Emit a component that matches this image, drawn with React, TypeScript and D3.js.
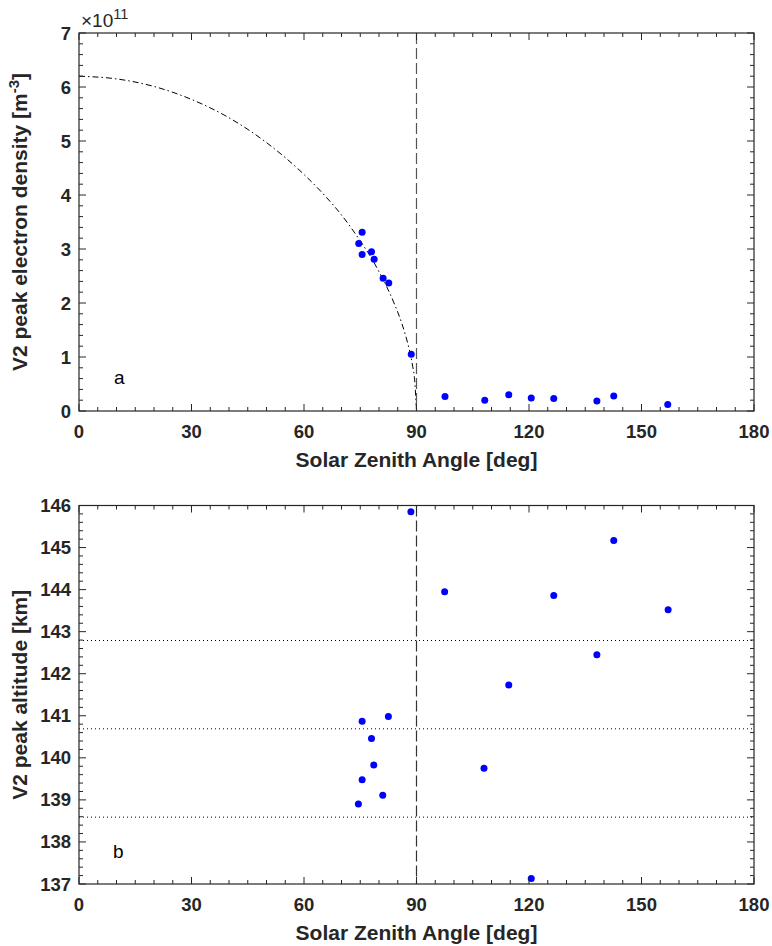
import React from "react";
import * as d3 from "d3";

// ---- data ----
const sza = [74.6, 75.5, 75.5, 78.0, 78.7, 81.1, 82.6, 88.6, 97.6, 108.2, 114.6, 120.6, 126.6, 138.1, 142.6, 157.0];
const densityE11 = [3.10, 3.31, 2.90, 2.95, 2.81, 2.46, 2.37, 1.05, 0.27, 0.20, 0.30, 0.24, 0.23, 0.185, 0.28, 0.12];
const altitudeSza = [74.5, 75.5, 75.5, 78.0, 78.6, 81.0, 82.5, 88.5, 97.5, 108.0, 114.6, 120.6, 126.6, 138.1, 142.6, 157.1];
const altitudeKm = [138.90, 140.87, 139.48, 140.46, 139.83, 139.11, 140.98, 145.85, 143.95, 139.75, 141.73, 137.13, 143.86, 142.45, 145.17, 143.52];
// model curve (dash-dot)
const curveSza = [0, 10, 20, 30, 40, 50, 60, 65, 70, 75, 78, 80, 82, 84, 86, 87, 88, 89, 89.5, 90];
const curveDensity = [6.20, 6.15, 6.01, 5.77, 5.43, 4.97, 4.38, 4.03, 3.63, 3.15, 2.83, 2.58, 2.31, 2.00, 1.64, 1.42, 1.16, 0.82, 0.58, 0.0];
// reference altitude lines (mean and +/- std)
const refAltitudes = [142.79, 140.69, 138.59];
const xTicks = [0, 30, 60, 90, 120, 150, 180];
const yTicksTop = [0, 1, 2, 3, 4, 5, 6, 7];
const yTicksBottom = [137, 138, 139, 140, 141, 142, 143, 144, 145, 146];
const terminator = 90;

const AX = "#262626";
const FONT = "'Liberation Sans', Arial, Helvetica, sans-serif";

function Frame({ x, y, xMinor, yMinor }: any) {
  const [x0, x1] = x.range();
  const [y0, y1] = y.range(); // y0 bottom, y1 top
  const els: any[] = [];
  xMinor.forEach((v: number, i: number) => {
    const major = xTicks.includes(v);
    const L = major ? 7 : 4;
    const px = x(v);
    els.push(<line key={"xb" + i} x1={px} x2={px} y1={y0} y2={y0 - L} stroke={AX} strokeWidth={1} />);
    els.push(<line key={"xt" + i} x1={px} x2={px} y1={y1} y2={y1 + L} stroke={AX} strokeWidth={1} />);
  });
  yMinor.forEach((o: any, i: number) => {
    const L = o.major ? 7 : 4;
    const py = y(o.v);
    els.push(<line key={"yl" + i} x1={x0} x2={x0 + L} y1={py} y2={py} stroke={AX} strokeWidth={1} />);
    els.push(<line key={"yr" + i} x1={x1} x2={x1 - L} y1={py} y2={py} stroke={AX} strokeWidth={1} />);
  });
  return (
    <g>
      <rect x={x0} y={y1} width={x1 - x0} height={y0 - y1} fill="none" stroke={AX} strokeWidth={1.2} />
      {els}
    </g>
  );
}

export default function App() {
  const W = 772, H = 946;
  const xL = 79, xR = 754;
  const xTop = d3.scaleLinear().domain([0, 180]).range([xL, xR]);
  const yTop = d3.scaleLinear().domain([0, 7]).range([411, 33]);
  const yBot = d3.scaleLinear().domain([137, 146]).range([884, 505.5]);

  const xMinor = d3.range(0, 181, 5);
  const yMinorTop = d3.range(0, 35.01, 1).map((k) => ({ v: k / 5, major: k % 5 === 0 }));
  const yMinorBot = d3.range(0, 45.01, 1).map((k) => ({ v: 137 + k / 5, major: k % 5 === 0 }));

  const curve = d3
    .line<number>()
    .x((_, i) => xTop(curveSza[i]))
    .y((d) => yTop(d))
    .curve(d3.curveMonotoneX)(curveDensity);

  const tickStyle: any = { fontFamily: FONT, fontWeight: "bold", fontSize: 18.5, fill: AX };
  const labelStyle: any = { fontFamily: FONT, fontWeight: "bold", fontSize: 21, fill: AX };

  return (
    <svg width={W} height={H} style={{ display: "block", position: "absolute", left: 0, top: 0, background: "#fff" }}>
      <rect width={W} height={H} fill="#fff" />
      {/* ---------- top panel ---------- */}
      <path d={curve || ""} fill="none" stroke="#000" strokeWidth={1} strokeDasharray="6,3,1.5,3" />
      <line x1={xTop(terminator)} x2={xTop(terminator)} y1={yTop(7)} y2={yTop(0)} stroke="#555" strokeWidth={1.2} strokeDasharray="11,4" />
      {sza.map((s, i) => (
        <circle key={"pt" + i} cx={xTop(s)} cy={yTop(densityE11[i])} r={3.5} fill="#0000ff" />
      ))}
      <Frame x={xTop} y={yTop} xMinor={xMinor} yMinor={yMinorTop} />
      {xTicks.map((t) => (
        <text key={"xt" + t} x={xTop(t)} y={438} textAnchor="middle" style={tickStyle}>{t}</text>
      ))}
      {yTicksTop.map((t) => (
        <text key={"yt" + t} x={71} y={yTop(t) + 6.5} textAnchor="end" style={tickStyle}>{t}</text>
      ))}
      <text x={81} y={27} style={{ fontFamily: FONT, fontSize: 19, fill: AX }}>
        ×10<tspan dy={-8} fontSize={14.5}>11</tspan>
      </text>
      <text x={xTop(90)} y={467} textAnchor="middle" style={labelStyle}>Solar Zenith Angle [deg]</text>
      <text transform={`translate(27,${yTop(3.5)}) rotate(-90)`} textAnchor="middle" style={labelStyle}>
        V2 peak electron density [m<tspan dy={-8} fontSize={15}>-3</tspan><tspan dy={8}>]</tspan>
      </text>
      <text x={114} y={384} style={{ fontFamily: FONT, fontSize: 19, fill: "#000" }}>a</text>

      {/* ---------- bottom panel ---------- */}
      {refAltitudes.map((a, i) => (
        <line key={"ra" + i} x1={xL} x2={xR} y1={yBot(a)} y2={yBot(a)} stroke="#000" strokeWidth={1} strokeDasharray="1,3" />
      ))}
      <line x1={xTop(terminator)} x2={xTop(terminator)} y1={yBot(146)} y2={yBot(137)} stroke="#333" strokeWidth={1.2} strokeDasharray="11,4" />
      {altitudeSza.map((s, i) => (
        <circle key={"pb" + i} cx={xTop(s)} cy={yBot(altitudeKm[i])} r={3.5} fill="#0000ff" />
      ))}
      <Frame x={xTop} y={yBot} xMinor={xMinor} yMinor={yMinorBot} />
      {xTicks.map((t) => (
        <text key={"xb" + t} x={xTop(t)} y={911} textAnchor="middle" style={tickStyle}>{t}</text>
      ))}
      {yTicksBottom.map((t) => (
        <text key={"yb" + t} x={71} y={yBot(t) + 6.5} textAnchor="end" style={tickStyle}>{t}</text>
      ))}
      <text x={xTop(90)} y={940} textAnchor="middle" style={labelStyle}>Solar Zenith Angle [deg]</text>
      <text transform={`translate(27,${yBot(141.5)}) rotate(-90)`} textAnchor="middle" style={labelStyle}>V2 peak altitude [km]</text>
      <text x={113} y={858} style={{ fontFamily: FONT, fontSize: 19, fill: "#000" }}>b</text>
    </svg>
  );
}
